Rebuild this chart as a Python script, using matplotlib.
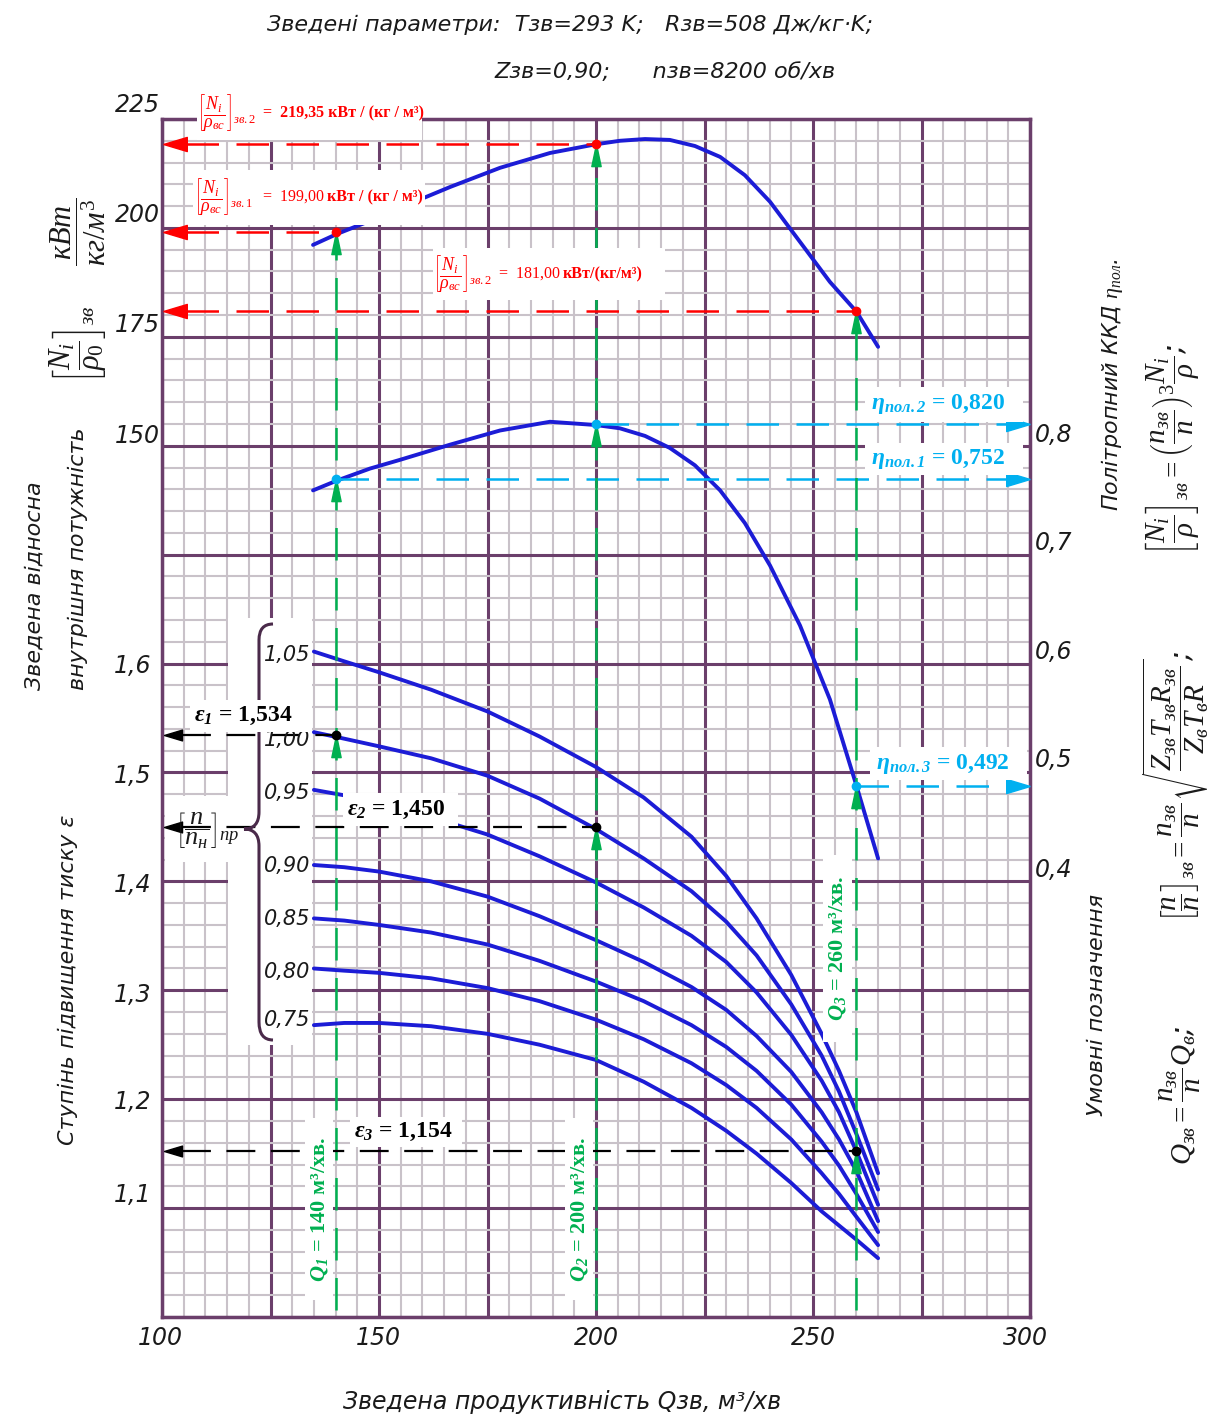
import numpy as np
import matplotlib
matplotlib.use('Agg')
import matplotlib.pyplot as plt
import matplotlib.ticker as mticker
from matplotlib.patches import Rectangle, PathPatch
from matplotlib.path import Path
from matplotlib.transforms import Affine2D

plt.rcParams['mathtext.fontset'] = 'custom'
plt.rcParams['mathtext.rm'] = 'Liberation Serif'
plt.rcParams['mathtext.it'] = 'Liberation Serif:italic'
plt.rcParams['mathtext.bf'] = 'Liberation Serif:bold'
plt.rcParams['mathtext.bfit'] = 'Liberation Serif:italic:bold'

# ── Data ─────────────────────────────────────────────────────────────────────
# reduced internal power N_i/rho, kW/(kg/m3)
Q_POWER = [134.8, 140.3, 147.9, 154.8, 166.4, 177.9, 189.4, 200, 205.5, 211.3, 217,
           222.8, 228.6, 234.3, 240.1, 247, 253.9, 260, 265]
N_POWER = [196.1, 198.6, 201.6, 204.6, 209.4, 213.8, 217.2, 219.2, 220.0, 220.4, 220.2,
           218.8, 216.3, 212.1, 206.0, 196.8, 187.6, 180.8, 172.7]

# polytropic efficiency
Q_ETA = [134.8, 140.3, 147.9, 154.8, 166.4, 177.9, 189.4, 200, 205.5, 211.3, 217,
         222.8, 228.6, 234.3, 240.1, 247, 253.9, 260, 265]
ETA = [0.759, 0.768, 0.779, 0.787, 0.801, 0.814, 0.822, 0.819, 0.816, 0.809, 0.798,
       0.782, 0.759, 0.729, 0.690, 0.635, 0.567, 0.488, 0.421]

# pressure ratio for reduced speed n/n_nom
Q_EPS = [135, 142, 150, 162, 175, 187, 200, 211, 222, 230, 237, 245, 252, 256, 260, 265]
EPS_105 = [1.611, 1.602, 1.592, 1.576, 1.556, 1.533, 1.505, 1.477, 1.441, 1.405, 1.366, 1.314, 1.260, 1.226, 1.188, 1.132]
EPS_100 = [1.537, 1.531, 1.524, 1.513, 1.497, 1.476, 1.448, 1.421, 1.391, 1.363, 1.332, 1.287, 1.240, 1.207, 1.168, 1.117]
EPS_095 = [1.484, 1.479, 1.471, 1.459, 1.443, 1.423, 1.399, 1.376, 1.350, 1.326, 1.298, 1.259, 1.217, 1.188, 1.152, 1.103]
EPS_090 = [1.415, 1.413, 1.409, 1.400, 1.386, 1.368, 1.346, 1.326, 1.303, 1.282, 1.258, 1.225, 1.188, 1.163, 1.134, 1.088]
EPS_085 = [1.366, 1.364, 1.360, 1.353, 1.342, 1.327, 1.308, 1.290, 1.268, 1.248, 1.226, 1.195, 1.161, 1.139, 1.113, 1.078]
EPS_080 = [1.320, 1.318, 1.316, 1.311, 1.302, 1.290, 1.273, 1.255, 1.233, 1.213, 1.192, 1.163, 1.132, 1.113, 1.092, 1.066]
EPS_075 = [1.268, 1.270, 1.270, 1.267, 1.260, 1.250, 1.236, 1.216, 1.192, 1.171, 1.150, 1.123, 1.097, 1.084, 1.071, 1.054]
EPS_CURVES = [EPS_105, EPS_100, EPS_095, EPS_090, EPS_085, EPS_080, EPS_075]
SPEED_LABELS = ['1,05', '1,00', '0,95', '0,90', '0,85', '0,80', '0,75']

# operating points
Q_MARK = [140, 200, 260]
N_MARK = [199.0, 219.35, 181.0]
ETA_MARK = [0.769, 0.820, 0.488]
EPS_MARK = [1.534, 1.450, 1.152]

X_TICKS = ['100', '150', '200', '250', '300']
N_TICKS = ['225', '200', '175', '150']
EPS_TICKS = ['1,6', '1,5', '1,4', '1,3', '1,2', '1,1']
ETA_TICKS = ['0,8', '0,7', '0,6', '0,5', '0,4']

BLUE = '#1c1cd6'
RED = '#ff0000'
CYAN = '#00b0f0'
GREEN = '#00b050'
GRID_MAJ = '#6b3f6b'
GRID_MIN = '#c9c2c9'


def p2e(p):
    # power scale shares the axis with pressure ratio: 150 -> 1.8, 225 -> 2.1
    return 1.2 + 0.004 * np.asarray(p, dtype=float)


def eta2e(e):
    return 1.0 + np.asarray(e, dtype=float)


# ── Figure / pixel helpers ──────────────────────────────────────────────────
W, H = 1227, 1427
X0, X1, Y0, Y1 = 162, 1030, 119, 1317


def dx(px):
    return 100 + (px - X0) * 200 / (X1 - X0)


def dy(py):
    return 1.0 + (Y1 - py) * 1.1 / (Y1 - Y0)


fig = plt.figure(figsize=(W / 100, H / 100), dpi=100)
PX = Affine2D().scale(1 / W, -1 / H).translate(0, 1) + fig.transFigure
ax = fig.add_axes([X0 / W, 1 - Y1 / H, (X1 - X0) / W, (Y1 - Y0) / H])
ax.set_xlim(100, 300)
ax.set_ylim(1.0, 2.1)
ax.xaxis.set_major_locator(mticker.MultipleLocator(25))
ax.xaxis.set_minor_locator(mticker.MultipleLocator(5))
ax.yaxis.set_major_locator(mticker.MultipleLocator(0.1))
ax.yaxis.set_minor_locator(mticker.MultipleLocator(0.02))
ax.set_axisbelow(True)
ax.grid(which='minor', color=GRID_MIN, lw=1.5)
ax.grid(which='major', color=GRID_MAJ, lw=2.2)
ax.tick_params(which='both', length=0, labelleft=False, labelbottom=False)
for s in ax.spines.values():
    s.set_color(GRID_MAJ)
    s.set_linewidth(2.5)


def box(x0, y0, x1, y1, z=1):
    ax.add_patch(Rectangle((x0, y0), x1 - x0, y1 - y0, transform=PX,
                           facecolor='white', edgecolor='none', zorder=z, clip_on=False))


def ptext(x, y, s, **kw):
    kw.setdefault('ha', 'center')
    kw.setdefault('va', 'center')
    return ax.text(x, y, s, transform=PX, clip_on=False, **kw)


HAND = dict(family='DejaVu Sans', style='italic', color='#1a1a1a')

# ── Curves ──────────────────────────────────────────────────────────────────
box(228, 618, 312, 1045)
box(165, 796, 245, 862)

ax.plot(Q_POWER, p2e(N_POWER), color=BLUE, lw=2.8, zorder=3, solid_capstyle='round',
        solid_joinstyle='round')
ax.plot(Q_ETA, eta2e(ETA), color=BLUE, lw=2.8, zorder=3, solid_capstyle='round',
        solid_joinstyle='round')
for eps in EPS_CURVES:
    ax.plot(Q_EPS, eps, color=BLUE, lw=2.8, zorder=3, solid_capstyle='round',
            solid_joinstyle='round')

# ── Operating-point construction lines ─────────────────────────────────────
UP = [(0, 1), (-0.42, -1), (0.42, -1), (0, 1)]
LEFT = [(-1, 0), (1, 0.6), (1, -0.6), (-1, 0)]
RIGHT = [(1, 0), (-1, 0.6), (-1, -0.6), (1, 0)]
DASH = (13, 7)
up_off = 11 * 1.1 / (Y1 - Y0)

for q, n, e, eps in zip(Q_MARK, N_MARK, ETA_MARK, EPS_MARK):
    yn, ye = p2e(n), eta2e(e)
    ax.plot([q, q], [dy(1310), yn], color=GREEN, lw=1.8, dashes=DASH, zorder=4)
    # power -> left axis
    ax.plot([dx(186), q], [yn, yn], color=RED, lw=1.8, dashes=DASH, zorder=4)
    ax.plot(dx(175), yn, marker=LEFT, ms=17, color=RED, zorder=5, clip_on=False)
    ax.plot(q, yn, 'o', color=RED, ms=6, zorder=6)
    # efficiency -> right axis
    ax.plot([q, dx(1010)], [ye, ye], color=CYAN, lw=1.8, dashes=DASH, zorder=4)
    ax.plot(dx(1018), ye, marker=RIGHT, ms=17, color=CYAN, zorder=5, clip_on=False)
    ax.plot(q, ye, 'o', color=CYAN, ms=6, zorder=6)
    # pressure ratio -> left axis
    ax.plot([dx(182), q], [eps, eps], color='black', lw=1.6, dashes=DASH, zorder=4)
    ax.plot(dx(173), eps, marker=LEFT, ms=13, color='black', zorder=5, clip_on=False)
    ax.plot(q, eps, 'o', color='black', ms=6, zorder=6)
    for y in (yn, ye, eps):
        ax.plot(q, y - up_off, marker=UP, ms=16, color=GREEN, zorder=5)

# ── Annotation labels ──────────────────────────────────────────────────────
SERIF = 'Liberation Serif'
bracket = r'$\left[\dfrac{N_i}{\rho_{вс}}\right]_{зв.%s}$'

box(197, 88, 422, 140, z=7)
ptext(197, 113, bracket % '2', ha='left', color=RED, fontsize=13, family=SERIF, zorder=8)
ptext(263, 113, '=  219,35 кВт / (кг / м³)', ha='left', color=RED, fontsize=11.5,
      family=SERIF, weight='bold', zorder=8)
box(193, 170, 425, 225, z=7)
ptext(194, 197, bracket % '1', ha='left', color=RED, fontsize=13, family=SERIF, zorder=8)
ptext(263, 197, '=  199,00', ha='left', color=RED, fontsize=11.5, family=SERIF, zorder=8)
ptext(327, 197, 'кВт / (кг / м³)', ha='left', color=RED, fontsize=11.5, family=SERIF,
      weight='bold', zorder=8)
box(433, 248, 665, 300, z=7)
ptext(433, 274, bracket % '2', ha='left', color=RED, fontsize=13, family=SERIF, zorder=8)
ptext(499, 274, '=  181,00', ha='left', color=RED, fontsize=11.5, family=SERIF, zorder=8)
ptext(563, 274, 'кВт/(кг/м³)', ha='left', color=RED, fontsize=11.5, family=SERIF,
      weight='bold', zorder=8)

for (x0, y0, x1, y1), k, v in zip([(865, 387, 1023, 422), (865, 443, 1023, 475), (870, 747, 1027, 780)],
                                  ['2', '1', '3'], ['0,820', '0,752', '0,492']):
    box(x0, y0, x1, y1, z=7)
    ptext(x0 + 6, (y0 + y1) / 2, r'$\mathbfit{\eta}_{\mathbfit{пол.%s}}$ = %s' % (k, v), ha='left',
          color=CYAN, fontsize=17, family=SERIF, weight='bold', zorder=8)

for (x0, y0, x1, y1), k, v in zip([(190, 700, 308, 732), (343, 793, 458, 826), (350, 1117, 462, 1147)],
                                  ['1', '2', '3'], ['1,534', '1,450', '1,154']):
    box(x0, y0, x1, y1, z=7)
    ptext(x0 + 4, (y0 + y1) / 2, r'$\mathbfit{\varepsilon}_{\mathbfit{%s}}$ = %s' % (k, v), ha='left',
          color='black', fontsize=17, family=SERIF, weight='bold', zorder=8)

for (x0, y0, x1, y1), k, q in zip([(305, 1118, 333, 1300), (565, 1118, 593, 1300), (823, 855, 852, 1042)],
                                  ['1', '2', '3'], Q_MARK):
    box(x0, y0, x1, y1, z=7)
    ptext((x0 + x1) / 2, (y0 + y1) / 2, r'$\mathbfit{Q}_{\mathbfit{%s}}$ = %d м³/хв.' % (k, q),
          rotation=90, color=GREEN, fontsize=16, family=SERIF, weight='bold', zorder=8)

# ── Speed-line brace and labels ─────────────────────────────────────────────
verts = [(273, 624), (259, 624), (259, 640), (259, 812), (259, 829), (244, 829),
         (259, 829), (259, 846), (259, 1022), (259, 1040), (273, 1040)]
codes = [Path.MOVETO, Path.CURVE3, Path.CURVE3, Path.LINETO, Path.CURVE3, Path.CURVE3,
         Path.CURVE3, Path.CURVE3, Path.LINETO, Path.CURVE3, Path.CURVE3]
ax.add_patch(PathPatch(Path(verts, codes), transform=PX, facecolor='none',
                       edgecolor='#4a2a4a', lw=2.2, zorder=5, clip_on=False))
for lab, y in zip(SPEED_LABELS, [655, 740, 793, 866, 919, 972, 1020]):
    ptext(287, y, lab, fontsize=15, zorder=6, **HAND)
ptext(207, 830, r'$\left[\dfrac{n}{n_н}\right]_{пр}$', fontsize=19, color='#1a1a1a', zorder=6)

# ── Tick labels ─────────────────────────────────────────────────────────────
for lab, y in zip(N_TICKS, [105, 215, 325, 436]):
    ptext(137, y, lab, fontsize=17, **HAND)
for lab, y in zip(EPS_TICKS, [666, 776, 885, 995, 1102, 1195]):
    ptext(133, y, lab, fontsize=17, **HAND)
for lab, y in zip(ETA_TICKS, [435, 543, 652, 760, 870]):
    ptext(1054, y, lab, fontsize=17, **HAND)
for lab, x in zip(X_TICKS, [160, 378, 596, 813, 1025]):
    ptext(x, 1338, lab, fontsize=17, **HAND)

# ── Axis titles and header ─────────────────────────────────────────────────
ptext(570, 25, 'Зведені параметри:  Tзв=293 K;   Rзв=508 Дж/кг·K;', fontsize=16, **HAND)
ptext(665, 72, 'Zзв=0,90;      nзв=8200 об/хв', fontsize=16, **HAND)
ptext(562, 1402, 'Зведена продуктивність Qзв, м³/хв', fontsize=17, **HAND)

ptext(35, 690, 'Зведена відносна', rotation=90, va='bottom', fontsize=16, **HAND)
ptext(78, 690, 'внутрішня потужність', rotation=90, va='bottom', fontsize=16, **HAND)
ptext(78, 345, r'$\left[\dfrac{N_i}{\rho_0}\right]_{зв}$', rotation=90, fontsize=22, **HAND)
ptext(78, 232, r'$\dfrac{кВт}{кг/м^3}$', rotation=90, fontsize=22, **HAND)
ptext(68, 980, 'Ступінь підвищення тиску ε', rotation=90, fontsize=16, **HAND)

ptext(1112, 385, r'Політропний ККД $\eta_{пол}$.', rotation=90, fontsize=16, **HAND)
ptext(1172, 450, r'$\left[\dfrac{N_i}{\rho}\right]_{зв} = \left(\dfrac{n_{зв}}{n}\right)^3\dfrac{N_i}{\rho}$;',
      rotation=90, fontsize=21, **HAND)
ptext(1097, 1005, 'Умовні позначення', rotation=90, fontsize=16, **HAND)
ptext(1176, 787, r'$\left[\dfrac{n}{n}\right]_{зв} = \dfrac{n_{зв}}{n}\sqrt{\dfrac{Z_{зв}T_{зв}R_{зв}}{Z_в T_в R}}$;',
      rotation=90, fontsize=21, **HAND)
ptext(1180, 1095, r'$Q_{зв} = \dfrac{n_{зв}}{n}Q_в$;', rotation=90, fontsize=21, **HAND)

fig.savefig('out.png', dpi=100, facecolor='white')
